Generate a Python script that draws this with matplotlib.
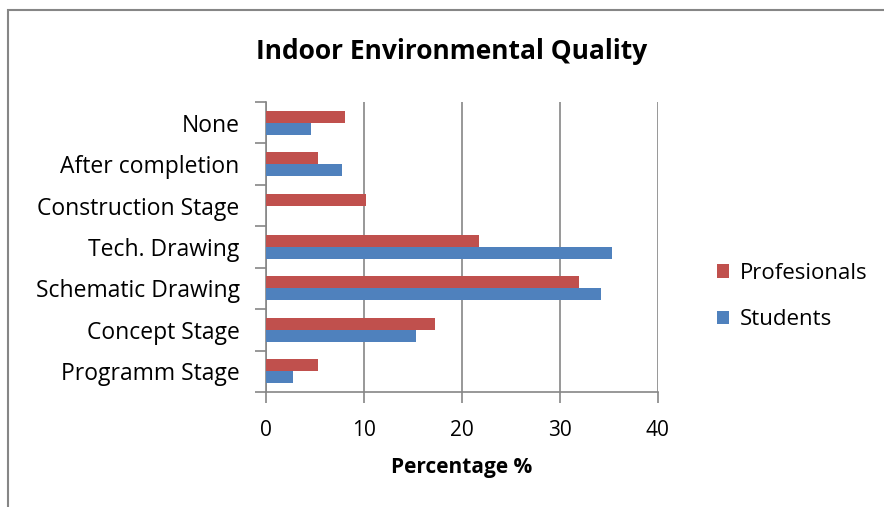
import matplotlib.pyplot as plt
from matplotlib.patches import Rectangle
import numpy as np

plt.rcParams['font.family'] = ['Open Sans', 'DejaVu Sans']

stages = ['Programm Stage', 'Concept Stage', 'Schematic Drawing', 'Tech. Drawing',
          'Construction Stage', 'After completion', 'None']
students = [2.8, 15.3, 34.2, 35.3, 0.0, 7.8, 4.6]
profesionals = [5.3, 17.3, 32.0, 21.7, 10.2, 5.3, 8.1]

blue = '#4f81bd'
red = '#c0504d'
grey = '#868686'

fig = plt.figure(figsize=(8.84, 5.07), dpi=100)
ax = fig.add_axes([0.301, 0.2268, 0.443, 0.572])

y = np.arange(len(stages))
h = 0.29
ax.barh(y - h / 2, students, height=h, color=blue, label='Students', zorder=3)
ax.barh(y + h / 2, profesionals, height=h, color=red, label='Profesionals', zorder=3)

ax.set_xlim(0, 40)
ax.set_ylim(-0.5, len(stages) - 0.5)
ax.set_xticks([0, 10, 20, 30, 40])
ax.grid(axis='x', color=grey, linewidth=1.2, zorder=0)

# category labels sit between the boundary ticks
ax.set_yticks(np.arange(-0.5, len(stages)), minor=False)
ax.set_yticklabels([])
ax.set_yticks(y, minor=True)
ax.set_yticklabels(stages, minor=True, fontsize=16.5)
ax.tick_params(axis='y', which='minor', length=0, pad=19)
ax.tick_params(axis='y', which='major', length=8, color=grey, width=1.2)
ax.tick_params(axis='x', length=8, color=grey, width=1.2, labelsize=15, pad=12)

for side in ['top', 'right']:
    ax.spines[side].set_visible(False)
for side in ['left', 'bottom']:
    ax.spines[side].set_color(grey)
    ax.spines[side].set_linewidth(1.2)

ax.set_xlabel('Percentage %', fontsize=15, fontweight='bold', labelpad=12)
fig.text(0.511, 0.899, 'Indoor Environmental Quality', ha='center', va='center',
         fontsize=19, fontweight='bold')

handles, labels = ax.get_legend_handles_labels()
fig.legend(handles[::-1], labels[::-1], loc='center left', bbox_to_anchor=(0.789, 0.415),
           frameon=False, fontsize=16, handlelength=0.54, handleheight=0.54,
           labelspacing=1.15, handletextpad=0.45)

# chart area border
fig.patches.append(Rectangle((8 / 884, -0.1), 1.2, 1 - 10 / 507 + 0.1, transform=fig.transFigure,
                             fill=False, edgecolor=grey, linewidth=1.5))

fig.savefig('out.png', dpi=100)
